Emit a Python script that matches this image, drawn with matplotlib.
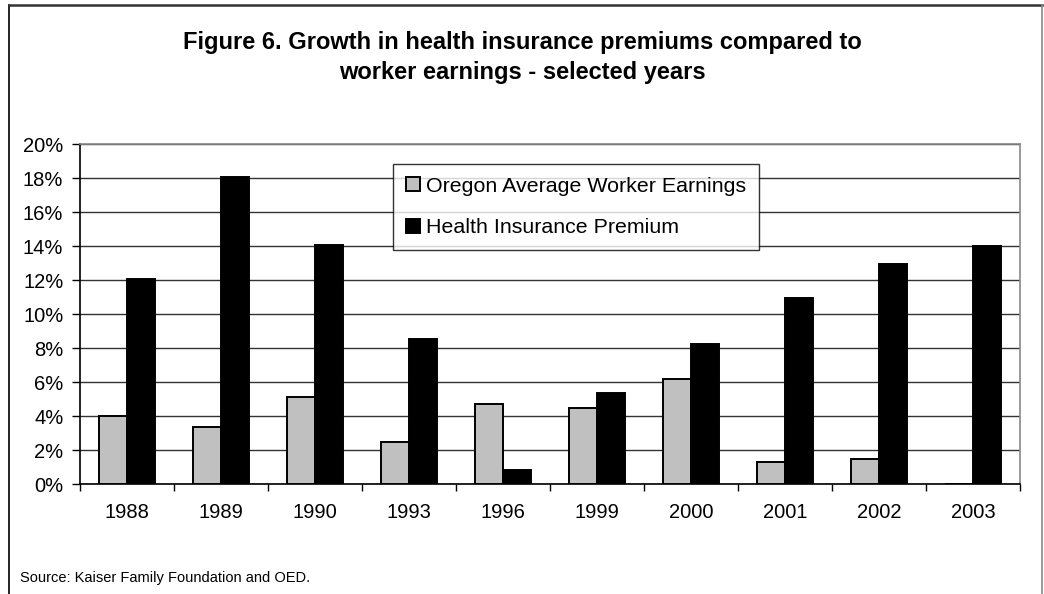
import numpy as np
import matplotlib
matplotlib.use("Agg")
import matplotlib.pyplot as plt
from matplotlib.ticker import FuncFormatter, FixedLocator

plt.rcParams['font.family'] = ['Liberation Sans', 'DejaVu Sans']

# --- data (growth rates, %) ---------------------------------------
years = ['1988', '1989', '1990', '1993', '1996', '1999', '2000', '2001', '2002', '2003']
earnings = [4.0, 3.35, 5.1, 2.45, 4.7, 4.5, 6.2, 1.3, 1.5, 0.0]
premium = [12.05, 18.05, 14.05, 8.55, 0.85, 5.35, 8.25, 10.95, 12.95, 14.0]

fig = plt.figure(figsize=(10.44, 5.94), dpi=100)

# outer frame of the figure
fig.add_artist(plt.Line2D([9/1044, 9/1044], [0, 1-5/594], color='black', lw=1.2))
fig.add_artist(plt.Line2D([9/1044, 1042/1044], [1-5/594, 1-5/594], color='#333333', lw=1.8))
fig.add_artist(plt.Line2D([1042/1044, 1042/1044], [0, 1-5/594], color='#888888', lw=1.2))

ax = fig.add_axes([80/1044, 1-484/594, 940/1044, 340/594])

x = np.arange(len(years))
w = 0.3
ax.bar(x - w/2, earnings, w, color='#c0c0c0', edgecolor='black', lw=1.4,
       label='Oregon Average Worker Earnings', zorder=3)
ax.bar(x + w/2, premium, w, color='black', edgecolor='black', lw=1.4,
       label='Health Insurance Premium', zorder=3)

ax.set_xlim(-0.5, len(years) - 0.5)
ax.set_ylim(0, 20)
ax.yaxis.set_major_locator(FixedLocator(np.arange(0, 21, 2)))
ax.yaxis.set_major_formatter(FuncFormatter(lambda v, p: '%d%%' % v))
ax.grid(axis='y', color='#333333', lw=1.0, zorder=0)

ax.set_xticks(x)
ax.set_xticklabels(years, fontsize=14.5)
ax.xaxis.set_minor_locator(FixedLocator(np.arange(-0.5, len(years), 1)))
ax.tick_params(axis='x', which='major', length=0, pad=14)
ax.tick_params(axis='x', which='minor', length=5, width=1, direction='out')
ax.tick_params(axis='y', length=5.5, width=1, direction='out', labelsize=14.5, pad=6.5)

ax.spines['left'].set_color('black')
ax.spines['bottom'].set_color('black')
ax.spines['top'].set_color('#888888')
ax.spines['right'].set_color('#888888')
for s in ax.spines.values():
    s.set_linewidth(1.2)

leg = ax.legend(loc='upper left', bbox_to_anchor=(313/940, 1 - 20/340),
                fontsize=15.4, frameon=True, fancybox=False, edgecolor='black',
                handlelength=0.65, handleheight=0.65, handletextpad=0.3,
                labelspacing=1.05, borderpad=0.6, borderaxespad=0)
leg.get_frame().set_linewidth(1.0)
leg.set_zorder(5)
for h in leg.legend_handles:
    h.set_linewidth(1.4)

fig.text(0.5, 1 - 42/594, 'Figure 6. Growth in health insurance premiums compared to',
         ha='center', va='center', fontsize=17, fontweight='bold')
fig.text(0.5, 1 - 73/594, 'worker earnings - selected years',
         ha='center', va='center', fontsize=17, fontweight='bold')
fig.text(20/1044, 1 - 578/594, 'Source: Kaiser Family Foundation and OED.',
         ha='left', va='center', fontsize=10.5)

plt.savefig('out.png', dpi=100)
